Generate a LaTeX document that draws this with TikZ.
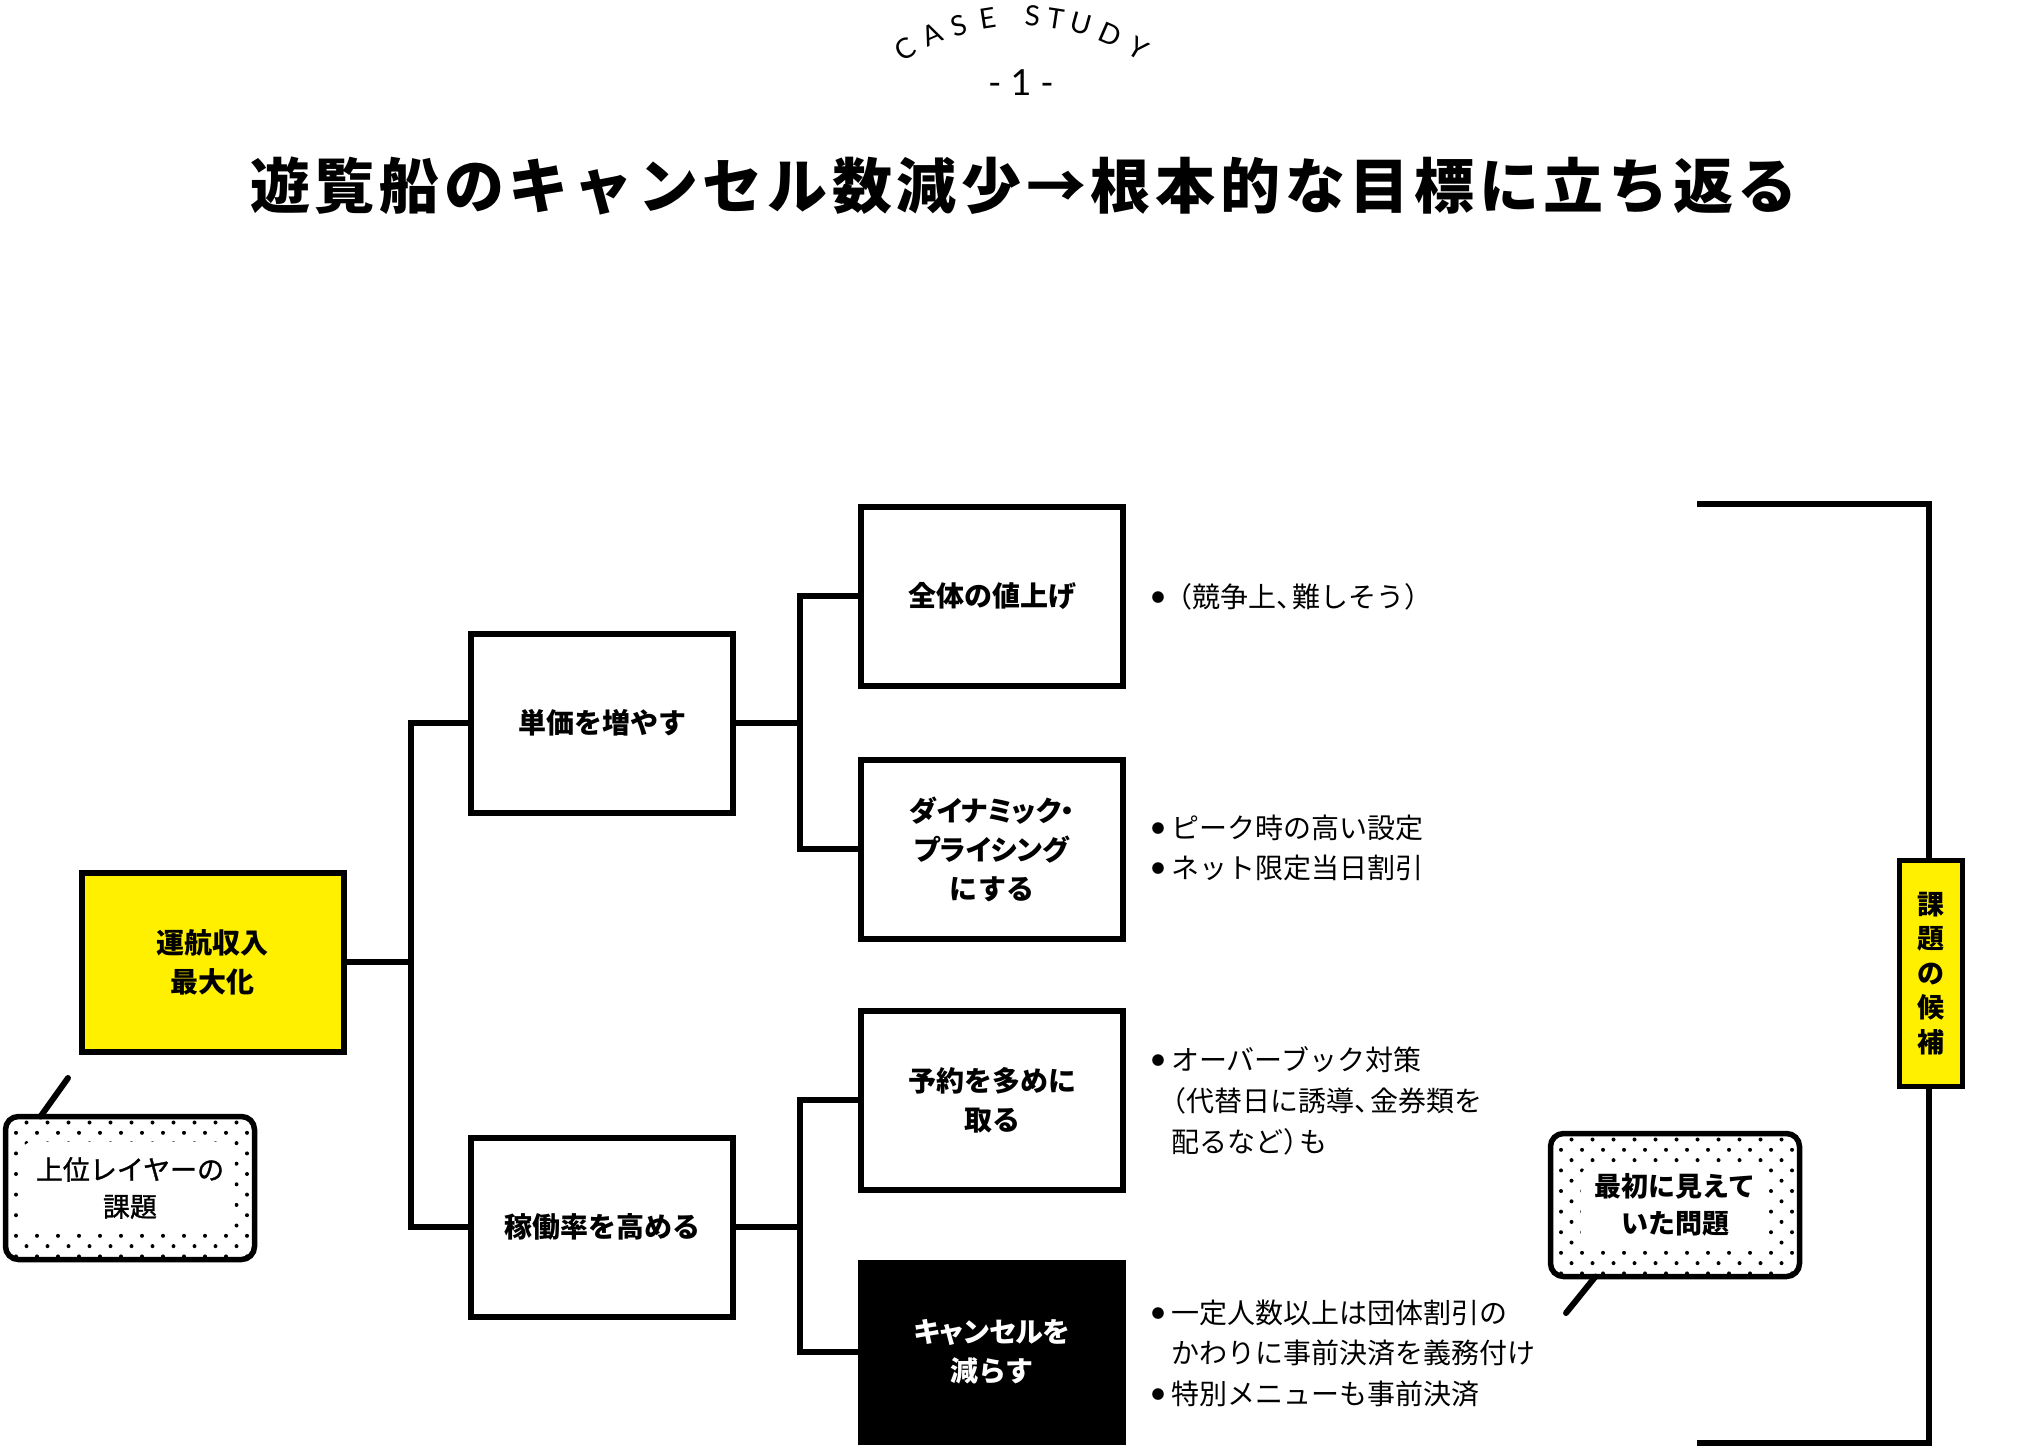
\documentclass[tikz,border=0pt]{standalone}
\usepackage{fontspec}
\setmainfont{Noto Sans CJK JP}
\newfontfamily\latinfont{Lato}
\usetikzlibrary{calc}
\definecolor{yel}{RGB}{255,240,0}
\newcommand\bul{\makebox[26pt][c]{\raisebox{5.5pt}{\fontsize{13}{13}\selectfont ●}}}
\newcommand\bulshort{\hspace*{6.5pt}\raisebox{5.5pt}{\fontsize{13}{13}\selectfont ●}}
\newcommand\ltou{、\kern-0.42em}
\newcommand\lpar{\kern-0.45em（}
\newcommand\rpar{）\kern-0.42em}
\newcommand\pa{\addfontfeatures{RawFeature=+palt}}
\tikzset{
  every node/.style={inner sep=0pt, outer sep=0pt},
  box/.style={draw, line width=6pt, minimum width=262pt, minimum height=179pt,
    align=center, fill=white, font=\bfseries\fontsize{28}{39}\selectfont},
  link/.style={line width=6.5pt},
  tail/.style={line width=6pt, line cap=round},
  listtxt/.style={anchor=west, font=\fontsize{28}{28}\selectfont},
  tagbox/.style={draw, line width=5.5pt, fill=yel, minimum width=63pt, minimum height=226pt,
    align=center, font=\bfseries\fontsize{27}{34.5}\selectfont},
  bubble/.style n args={4}{draw, line width=5.5pt, rounded corners=13pt, fill=white,
    minimum width=249pt, minimum height=143pt, align=center,
    font=\fontsize{27}{37}\selectfont,
    path picture={
      \foreach \r in {0,...,15}{
        \foreach \c in {0,...,13}{
          \fill[black] ($(path picture bounding box.north west)+({21*\c+10.5*mod(\r,2)},{-6-10.3*\r})$) circle (2);
        }
      }
      \fill[white] ($(path picture bounding box.north west)+(#1,-#3)$) rectangle ($(path picture bounding box.south east)+(-#2,#4)$);
    }},
}
\begin{document}
\begin{tikzpicture}[x=1pt,y=1pt]
\useasboundingbox (0,0) rectangle (2037,-1451);
\fill[white] (0,0) rectangle (2037,-1451);

% CASE STUDY arc
\foreach \ch/\th [count=\i] in {C/-31.6,A/-23.8,S/-16.6,E/-8.9,S/2.7,T/8.7,U/15.5,D/23.5,Y/31.6}{
  \node[font=\latinfont\fontsize{28}{28}\selectfont, rotate=-\th] (cs\i) at ($(1022,-238)+({90-\th}:222)$) {\ch};
}
\node[font=\latinfont\fontsize{36}{36}\selectfont] (num) at (1021,-83) {-\hspace{9pt}1\hspace{9pt}-};

% title
\node (title) at (1024,-186) {\bfseries\fontsize{60}{60}\selectfont\addfontfeatures{LetterSpace=7.8}遊覧船のキャンセル数減少→根本的な目標に立ち返る};

% tree boxes
\node[box, fill=yel] (goal) at (212.5,-962) {運航収入\\最大化};
\node[box] (tanka) at (602,-723) {単価を増やす};
\node[box] (kado) at (602,-1227) {稼働率を高める};
\node[box] (zentai) at (992,-596) {全体の値上げ};
\node[box] (dyn) at (992,-849) {\pa ダイナミック・\\\pa プライシング\\にする};
\node[box] (yoyaku) at (992,-1100) {予約を多めに\\取る};
\node[box, fill=black, text=white] (cancel) at (992,-1352) {\pa キャンセルを\\減らす};

% connectors
\coordinate (j1) at (411,-962);
\coordinate (j2) at (800,-723);
\coordinate (j3) at (800,-1227);
\draw[link] (goal.east) -- (j1);
\draw[link] (tanka.west) -| (j1) |- (kado.west);
\draw[link] (tanka.east) -- (j2);
\draw[link] (zentai.west) -| (j2) |- (dyn.west);
\draw[link] (kado.east) -- (j3);
\draw[link] (yoyaku.west) -| (j3) |- (cancel.west);

% lists
\node[listtxt] (t1) at (1145,-597) {\bulshort （競争上\ltou 難しそう）};
\node[listtxt] (t2) at (1145,-828) {\bul ピーク時の高い設定};
\node[listtxt] (t3) at (1145,-868) {\bul ネット限定当日割引};
\node[listtxt] (t4) at (1145,-1060) {\bul オーバーブック対策};
\node[listtxt] (t5) at (1171,-1101) {\lpar 代替日に誘導\ltou 金券類を};
\node[listtxt] (t6) at (1171,-1142) {配るなど\rpar も};
\node[listtxt] (t7) at (1145,-1313) {\bul 一定人数以上は団体割引の};
\node[listtxt] (t8) at (1171,-1353) {かわりに事前決済を義務付け};
\node[listtxt] (t9) at (1145,-1394) {\bul 特別メニューも事前決済};

% right bracket
\coordinate (b1) at (1697,-504);
\coordinate (b2) at (1929,-504);
\coordinate (b3) at (1929,-1443);
\coordinate (b4) at (1697,-1443);
\draw[link] (b1) -- (b2) -- (b3) -- (b4);
\node[tagbox] (kadai) at (1931,-973.5) {課\\題\\の\\候\\補};

% speech bubbles
\node[bubble={15}{20}{25}{27}, font=\fontsize{27}{37}\selectfont\addfontfeatures{FakeBold=1.2}] (upper) at (130,-1188) {上位レイヤーの\\課題};
\coordinate (tl) at (68,-1078);
\draw[tail] ([xshift=35pt]upper.north west) -- (tl);
\node[bubble={30}{32}{32}{27}, font=\bfseries\fontsize{27}{37}\selectfont] (first) at (1675,-1205) {最初に見えて\\いた問題};
\coordinate (tr) at (1566,-1313);
\draw[tail] ([xshift=45pt]first.south west) -- (tr);
\end{tikzpicture}
\end{document}
